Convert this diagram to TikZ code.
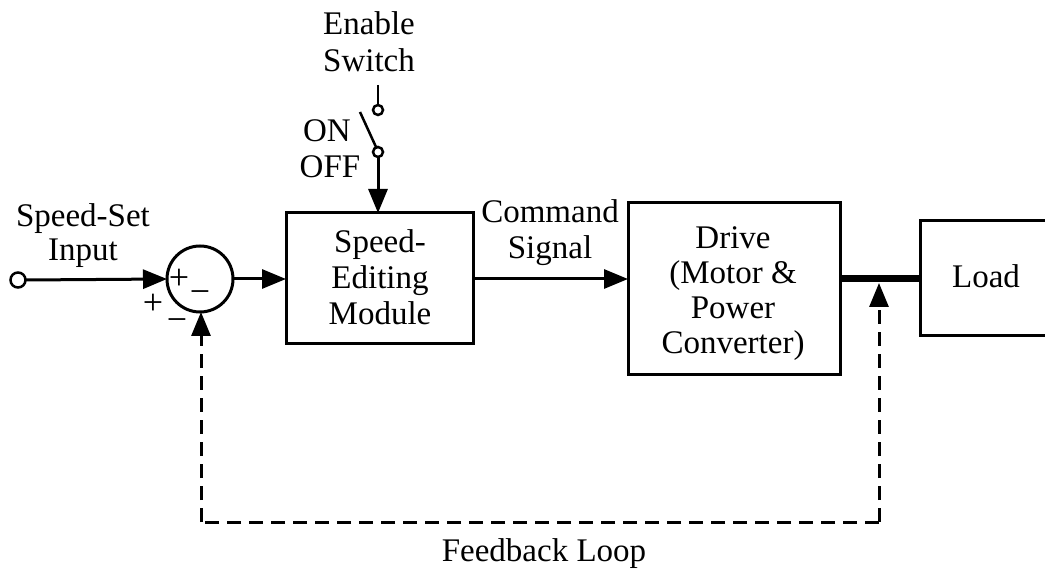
\documentclass[tikz,border=0pt]{standalone}
\usepackage{fontspec}
\setmainfont{Liberation Serif}
\usetikzlibrary{arrows.meta}
\begin{document}
\begin{tikzpicture}[x=1pt,y=-1pt,
  every node/.style={inner sep=0pt, outer sep=0pt},
  lbl/.style={font=\fontsize{33}{36}\selectfont, anchor=base},
  sgn/.style={font=\fontsize{36}{38}\selectfont},
  blk/.style={draw, line width=3pt, rectangle},
  arr/.style={line width=3pt, -{Triangle[length=24pt,width=19pt]}},
  fbk/.style={line width=3pt, dash pattern=on 14pt off 8pt},
  term/.style={draw, line width=2.5pt, circle, fill=white, minimum size=15pt}
]
\useasboundingbox (0,0) rectangle (1045,569);

% blocks
\node[blk, minimum width=187pt, minimum height=131pt] (sem) at (379.5,278.5) {};
\node[blk, minimum width=212pt, minimum height=172pt] (drv) at (734,289) {};
\node[blk, minimum width=160pt, minimum height=115pt, anchor=west] (load) at (920,278.5) {};
\node[draw, line width=3pt, circle, minimum size=66pt] (sum) at (200,279) {};
\node[term] (in) at (18,280) {};

% block texts
\node[lbl] (t1) at (380,253) {Speed-};
\node[lbl] (t2) at (380,289) {Editing};
\node[lbl] (t3) at (380,325) {Module};
\node[lbl] (d1) at (733,249) {Drive};
\node[lbl] (d2) at (733,284) {(Motor \&};
\node[lbl] (d3) at (733,319) {Power};
\node[lbl] (d4) at (733,354) {Converter)};
\node[lbl] (l1) at (986,288) {Load};

% other labels
\node[lbl] (ss1) at (83,227) {Speed-Set};
\node[lbl] (ss2) at (83,261) {Input};
\node[lbl] (cs1) at (550,223) {Command};
\node[lbl] (cs2) at (550,259) {Signal};
\node[lbl] (es1) at (369,35) {Enable};
\node[lbl] (es2) at (369,72) {Switch};
\node[lbl] (on) at (327,142) {ON};
\node[lbl] (off) at (330,178) {OFF};
\node[lbl] (fl) at (544,561) {Feedback Loop};

% signs
\node[sgn] (pin) at (179,279) {+};
\node[sgn] (min) at (200,297) {−};
\node[sgn] (pout) at (153,304) {+};
\node[sgn] (mout) at (177,325) {−};

% switch
\coordinate (swtop) at (378,85);
\node[term, minimum size=10pt, line width=2.5pt] (swa) at (378,110) {};
\node[term, minimum size=10pt, line width=2.5pt] (swb) at (378,152) {};
\coordinate (bladeA) at (360,112);
\coordinate (bladeB) at (376,147);
\draw[line width=2.5pt] (swtop) -- (swa);
\draw[line width=2.5pt] (bladeA) -- (bladeB);
\draw[arr] (swb.south) -- (swb.south |- sem.north);

% connectors
\draw[arr] (in.east) -- (sum.west);
\draw[arr] (sum.east) -- (sem.west |- sum.east);
\draw[arr] (sem.east |- 0,279) -- (drv.west |- 0,279);
\draw[line width=7.5pt] (drv.east |- load.west) -- (load.west);

% feedback
\coordinate (tap) at (879,283);
\coordinate (fbR) at (879,522);
\coordinate (fbL) at (201,522);
\draw[fbk, -{Triangle[length=24pt,width=19pt]}] (fbR) -- (tap);
\draw[fbk] (fbR) -- (fbL);
\draw[fbk, -{Triangle[length=24pt,width=19pt]}] (fbL) -- (fbL |- sum.south);
\end{tikzpicture}
\end{document}
